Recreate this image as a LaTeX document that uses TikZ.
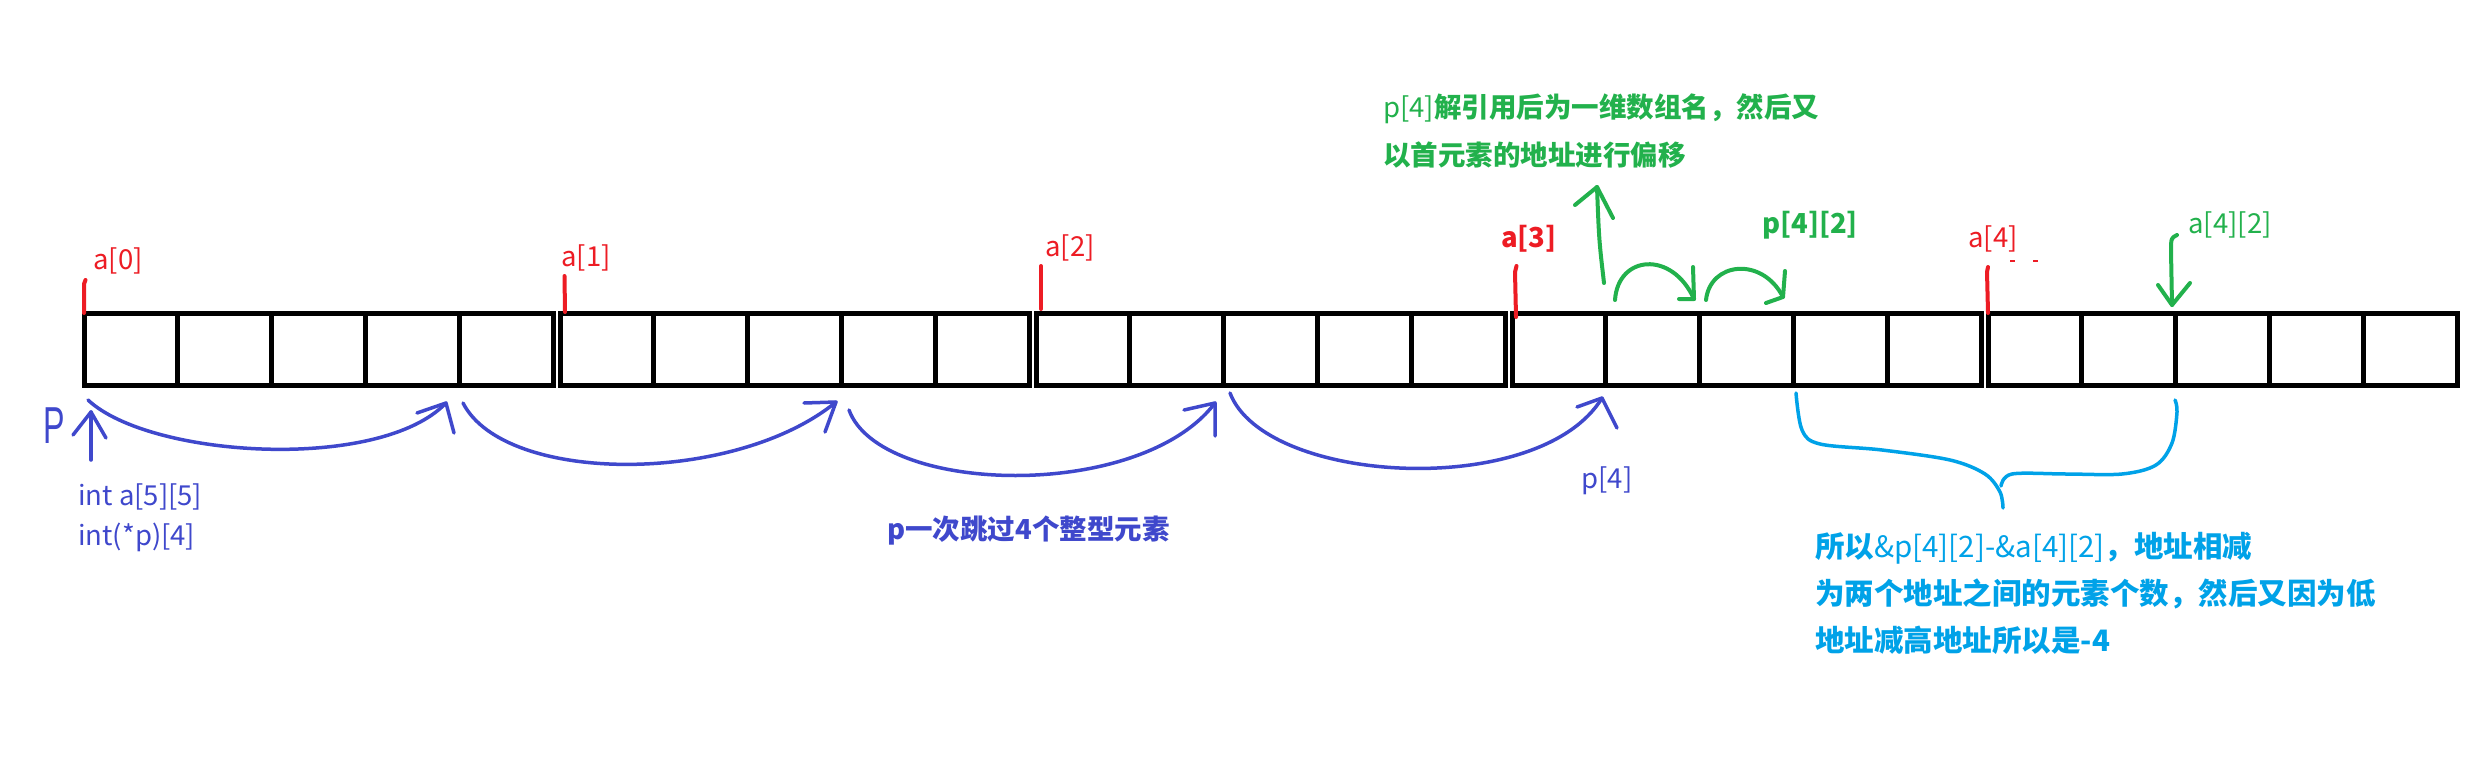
\documentclass[tikz,border=0pt]{standalone}
\usepackage{fontspec}
\newfontfamily\cjk{Noto Sans CJK SC}
\newfontfamily\hand{Liberation Sans}
\definecolor{pred}{HTML}{ED1C24}
\definecolor{pblue}{HTML}{3F48CC}
\definecolor{pgreen}{HTML}{22B14C}
\definecolor{pcyan}{HTML}{00A2E8}
\begin{document}
\begin{tikzpicture}[x=1pt,y=-1pt,
  cellrow/.style={line width=5pt,draw=black},
  redtick/.style={line width=4pt,draw=pred,line cap=round},
  pen/.style={line width=3.5pt,line cap=round,line join=round},
  lbl/.style={inner sep=0pt,font=\cjk\fontsize{27.5}{30}\selectfont},
  big/.style={inner sep=0pt,font=\cjk\fontsize{29.5}{32}\selectfont},
]
\useasboundingbox (0,0) rectangle (2473,757);
\fill[white] (0,0) rectangle (2473,757);

% memory cells: 5 rows of 5 ints
\foreach \g in {0,...,4}{
  \pgfmathsetmacro\xo{84+476*\g}
  \draw[cellrow] (\xo,313) rectangle ++(469.5,72);
  \foreach \k in {1,...,4}{
    \draw[cellrow] (\xo+93.9*\k,313) -- (\xo+93.9*\k,385);
  }
}

% red row markers
\draw[redtick] (84,313) -- (84,284) -- (85.5,280);
\draw[redtick] (565,312) -- (564.5,276);
\draw[redtick] (1041,309) -- (1041,266);
\draw[redtick] (1516,317) -- (1515,272) -- (1516.5,266);
\draw[redtick] (1988,313) -- (1987,272) -- (1988,267);
\draw[pred,line width=2pt] (2010,261) -- (2015,261);
\draw[pred,line width=2pt] (2033,261) -- (2038,261);
\node[lbl,text=pred] (a0) at (118,261) {a[0]};
\node[lbl,text=pred] (a1) at (586,258) {a[1]};
\node[lbl,text=pred] (a2) at (1070,248) {a[2]};
\node[lbl,text=pred,font=\cjk\bfseries\fontsize{27.5}{30}\selectfont] (a3) at (1529,239) {a[3]};
\node[lbl,text=pred] (a4) at (1993,239) {a[4]};

% pointer p
\node[inner sep=0pt,text=pblue,font=\hand\fontsize{52}{56}\selectfont,xscale=0.62] (P) at (54,426) {P};
\coordinate (pbot) at (91,460);
\coordinate (ptip) at (91,412);
\draw[pen,pblue] (pbot) -- (ptip);
\draw[pen,pblue] (73,435) -- (ptip) -- (106,438);
\node[lbl,text=pblue,anchor=west] (decl1) at (78,497) {int a[5][5]};
\node[lbl,text=pblue,anchor=west] (decl2) at (78,537) {int(*p)[4]};

% jumps of p
\coordinate (s1) at (88,400);  \coordinate (e1) at (446,403);
\coordinate (s2) at (463,403); \coordinate (e2) at (836,402);
\coordinate (s3) at (849,410); \coordinate (e3) at (1215,403);
\coordinate (s4) at (1230,393);\coordinate (e4) at (1602,398);
\draw[pen,pblue] (s1) .. controls (150,458) and (380,472) .. (e1);
\draw[pen,pblue] (417,413) -- (e1) -- (454,433);
\draw[pen,pblue] (s2) .. controls (505,485) and (735,485) .. (e2);
\draw[pen,pblue] (804,403) -- (e2) -- (825,432);
\draw[pen,pblue] (s3) .. controls (880,495) and (1140,502) .. (e3);
\draw[pen,pblue] (1184,410) -- (e3) -- (1215,436);
\draw[pen,pblue] (s4) .. controls (1265,485) and (1540,500) .. (e4);
\draw[pen,pblue] (1577,407) -- (e4) -- (1617,428);
\node[lbl,text=pblue] (p4) at (1607,481) {p[4]};
\node[lbl,text=pblue,anchor=west,font=\cjk\bfseries\fontsize{27.5}{30}\selectfont] (jump) at (887,531) {p一次跳过4个整型元素};

% green: dereference
\coordinate (gu0) at (1604,283);
\coordinate (gu1) at (1597,187);
\draw[pen,pgreen,line width=4pt] (gu0) .. controls (1599,240) .. (gu1);
\draw[pen,pgreen,line width=4pt] (1575,205) -- (gu1) -- (1613,218);
\node[lbl,text=pgreen,anchor=west] (gt1) at (1383,109) {p[4]{\bfseries 解引用后为一维数组名，然后又}};
\node[lbl,text=pgreen,anchor=west] (gt2) at (1383,155) {\bfseries 以首元素的地址进行偏移};
\coordinate (h0) at (1615,300); \coordinate (h1) at (1694,299);
\coordinate (h2) at (1706,300); \coordinate (h3) at (1783,297);
\draw[pen,pgreen,line width=4pt] (h0) .. controls (1618,255) and (1672,250) .. (h1);
\draw[pen,pgreen,line width=4pt] (1679,299) -- (h1) -- (1693,267);
\draw[pen,pgreen,line width=4pt] (h2) .. controls (1710,262) and (1762,256) .. (h3);
\draw[pen,pgreen,line width=4pt] (1766,303) -- (h3) -- (1785,271);
\node[lbl,text=pgreen,font=\cjk\bfseries\fontsize{27.5}{30}\selectfont] (p42) at (1810,225) {p[4][2]};
\node[lbl,text=pgreen] (a42) at (2230,225) {a[4][2]};
\coordinate (d0) at (2177,235);
\coordinate (d1) at (2172,305);
\draw[pen,pgreen,line width=4pt] (d0) .. controls (2171,238) .. (2171,252) -- (d1);
\draw[pen,pgreen,line width=4pt] (2158,285) -- (d1) -- (2190,283);

% cyan brace and note
\draw[pen,pcyan] plot[smooth,tension=0.55] coordinates {(1796,393) (1802,430) (1820,444) (1882,450) (1950,460) (1985,474) (2000,492) (2003,508)};
\draw[pen,pcyan] plot[smooth,tension=0.55] coordinates {(2001,486) (2012,474) (2066,474) (2122,474) (2156,465) (2172,443) (2177,412) (2175,400)};
\node[big,text=pcyan,anchor=west] (c1) at (1815,548) {{\bfseries 所以}\&p[4][2]-\&a[4][2]{\bfseries ，地址相减}};
\node[big,text=pcyan,anchor=west] (c2) at (1815,594) {\bfseries 为两个地址之间的元素个数，然后又因为低};
\node[big,text=pcyan,anchor=west] (c3) at (1815,640) {\bfseries 地址减高地址所以是-4};
\end{tikzpicture}
\end{document}
